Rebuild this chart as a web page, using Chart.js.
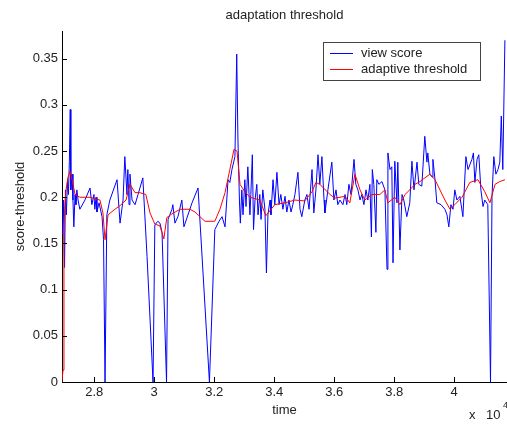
<!DOCTYPE html>
<html>
<head>
<meta charset="utf-8">
<script src="https://cdn.jsdelivr.net/npm/chart.js@4.4.1/dist/chart.umd.min.js"></script>
<style>
    html, body { margin: 0; padding: 0; background: #fff; }
    canvas { display: block; }
</style>
</head>
<body>
<canvas id="grafico" width="507" height="426"></canvas>
<script>
// view score (blue)
const scoreTime = [
    26940, 26970, 27010, 27040, 27070, 27110, 27140, 27170, 27200, 27220,
    27260, 27290, 27320, 27360, 27390, 27420, 27460, 27520, 27690, 27860,
    27920, 27990, 28020, 28060, 28090, 28160, 28260, 28310, 28360, 28420,
    28520, 28760, 28860, 28960, 29020, 29090, 29120, 29160, 29190, 29260,
    29360, 29460, 29620, 29760, 29960, 30020, 30120, 30190, 30260, 30410,
    30460, 30520, 30590, 30620, 30690, 30790, 30920, 30990, 31260, 31460,
    31840, 32020, 32160, 32260, 32360, 32460, 32520, 32590, 32690, 32750,
    32790, 32840, 32870, 32920, 32960, 33020, 33060, 33120, 33190, 33220,
    33270, 33310, 33360, 33420, 33460, 33520, 33560, 33620, 33690, 33740,
    33790, 33860, 33890, 33960, 34020, 34090, 34160, 34220, 34290, 34360,
    34420, 34490, 34560, 34620, 34690, 34790, 34860, 34920, 35020, 35090,
    35160, 35260, 35320, 35390, 35460, 35520, 35590, 35660, 35690, 35790,
    35920, 35990, 36060, 36120, 36190, 36290, 36360, 36420, 36490, 36560,
    36660, 36720, 36790, 36860, 36920, 36990, 37060, 37120, 37190, 37240,
    37270, 37320, 37390, 37420, 37490, 37590, 37690, 37760, 37790, 37860,
    37920, 37960, 38020, 38090, 38120, 38190, 38260, 38320, 38420, 38520,
    38590, 38660, 38760, 38820, 38920, 39020, 39090, 39120, 39190, 39260,
    39290, 39360, 39420, 39560, 39690, 39760, 39820, 39890, 39960, 40020,
    40090, 40190, 40290, 40390, 40460, 40520, 40590, 40640, 40690, 40760,
    40820, 40890, 40960, 41020, 41120, 41210, 41260, 41320, 41390, 41460,
    41520, 41570, 41620, 41690
];
const viewScore = [
    0.160, 0.197, 0.124, 0.208, 0.181, 0.219, 0.203, 0.239, 0.295, 0.208,
    0.225, 0.197, 0.168, 0.203, 0.192, 0.208, 0.197, 0.187, 0.197, 0.210,
    0.192, 0.203, 0.187, 0.200, 0.184, 0.194, 0.179, 0.154, 0, 0.181,
    0.197, 0.219, 0.172, 0.197, 0.244, 0.203, 0.230, 0.192, 0.225, 0.197,
    0.192, 0.203, 0.221, 0.136, 0, 0.170, 0.174, 0.172, 0.162, 0,
    0.176, 0.181, 0.187, 0.192, 0.172, 0.179, 0.197, 0.168, 0.194, 0.210,
    0, 0.165, 0.174, 0.179, 0.168, 0.219, 0.216, 0.230, 0.244, 0.355,
    0.263, 0.197, 0.172, 0.208, 0.181, 0.219, 0.190, 0.233, 0.181, 0.203,
    0.246, 0.165, 0.197, 0.214, 0.181, 0.203, 0.176, 0.208, 0.187, 0.118,
    0.181, 0.197, 0.181, 0.219, 0.192, 0.227, 0.192, 0.203, 0.187, 0.201,
    0.184, 0.197, 0.184, 0.192, 0.203, 0.227, 0.187, 0.179, 0.197, 0.203,
    0.187, 0.230, 0.183, 0.208, 0.246, 0.214, 0.244, 0.197, 0.183, 0.208,
    0.238, 0.197, 0.208, 0.192, 0.197, 0.192, 0.203, 0.192, 0.214, 0.203,
    0.241, 0.214, 0.208, 0.197, 0.203, 0.192, 0.208, 0.197, 0.214, 0.157,
    0.230, 0.214, 0.162, 0.219, 0.214, 0.217, 0.208, 0.122, 0.248, 0.230,
    0.233, 0.129, 0.239, 0.194, 0.238, 0.143, 0.203, 0.197, 0.179, 0.194,
    0.239, 0.208, 0.238, 0.214, 0.212, 0.266, 0.238, 0.248, 0.225, 0.222,
    0.241, 0.219, 0.194, 0.192, 0.187, 0.181, 0.168, 0.192, 0.187, 0.208,
    0.197, 0.201, 0.179, 0.244, 0.230, 0.235, 0.241, 0.248, 0.216, 0.241,
    0.246, 0.208, 0.190, 0.197, 0.192, 0, 0.201, 0.244, 0.225, 0.230,
    0.238, 0.288, 0.230, 0.370
];

// adaptive threshold (red)
const thresholdTime = [
    26920, 26960, 26990, 27020, 27060, 27120, 27190, 27260, 27360, 27520,
    27860, 28190, 28290, 28360, 28460, 28690, 28860, 29060, 29190, 29360,
    29520, 29720, 29860, 30020, 30190, 30320, 30420, 30590, 30860, 31190,
    31360, 31690, 32020, 32190, 32360, 32520, 32660, 32760, 32860, 33020,
    33190, 33520, 33720, 34020, 34360, 34690, 35020, 35260, 35390, 35520,
    35860, 36020, 36360, 36520, 36690, 36860, 37020, 37260, 37520, 37690,
    37790, 38020, 38190, 38360, 38520, 38690, 38860, 39020, 39190, 39360,
    39690, 39860, 40020, 40260, 40520, 40790, 41020, 41190, 41360, 41520,
    41690
];
const threshold = [
    0, 0.013, 0.165, 0.192, 0.208, 0.221, 0.228, 0.219, 0.203, 0.200,
    0.200, 0.197, 0.183, 0.154, 0.181, 0.187, 0.191, 0.197, 0.214, 0.205,
    0.205, 0.203, 0.183, 0.171, 0.169, 0.155, 0.178, 0.182, 0.187, 0.187,
    0.184, 0.174, 0.174, 0.187, 0.205, 0.230, 0.252, 0.250, 0.214, 0.206,
    0.200, 0.197, 0.180, 0.192, 0.194, 0.197, 0.196, 0.206, 0.216, 0.214,
    0.203, 0.199, 0.201, 0.194, 0.225, 0.208, 0.197, 0.203, 0.203, 0.208,
    0.194, 0.200, 0.192, 0.203, 0.208, 0.214, 0.217, 0.221, 0.225, 0.219,
    0.197, 0.187, 0.192, 0.200, 0.216, 0.219, 0.206, 0.194, 0.214, 0.217,
    0.219
];

const xTicks = [28000, 30000, 32000, 34000, 36000, 38000, 40000];
const yTicks = [0, 0.05, 0.1, 0.15, 0.2, 0.25, 0.3, 0.35];

const fonte = '"Liberation Sans", Arial, sans-serif';
const corTexto = '#222';

function pares(xs, ys) {
    return xs.map((x, i) => ({ x: x, y: ys[i] }));
}

// inward ticks, legend box and the "x 10^4" multiplier
const extras = {
    id: 'extras',
    afterDraw(chart) {
        const ctx = chart.ctx;
        const area = chart.chartArea;
        const sx = chart.scales.x;
        const sy = chart.scales.y;

        ctx.save();
        ctx.strokeStyle = '#000';
        ctx.lineWidth = 1;
        ctx.beginPath();
        sx.ticks.forEach(t => {
            const px = Math.round(sx.getPixelForValue(t.value)) + 0.5;
            ctx.moveTo(px, area.bottom);
            ctx.lineTo(px, area.bottom - 5);
        });
        sy.ticks.forEach(t => {
            const py = Math.round(sy.getPixelForValue(t.value)) + 0.5;
            ctx.moveTo(area.left, py);
            ctx.lineTo(area.left + 5, py);
        });
        ctx.stroke();

        // legend
        ctx.fillStyle = '#fff';
        ctx.fillRect(323.5, 42.5, 157, 38);
        ctx.strokeStyle = '#444';
        ctx.strokeRect(323.5, 42.5, 157, 38);
        ctx.font = '13px ' + fonte;
        ctx.textBaseline = 'middle';
        chart.data.datasets.forEach((ds, i) => {
            const yy = 53.5 + i * 16;
            ctx.strokeStyle = ds.borderColor;
            ctx.beginPath();
            ctx.moveTo(330, yy);
            ctx.lineTo(353, yy);
            ctx.stroke();
            ctx.fillStyle = corTexto;
            ctx.fillText(ds.label, 361, yy);
        });

        // x 10^4
        ctx.textBaseline = 'alphabetic';
        ctx.fillText('x', 469, 419);
        ctx.fillText('10', 486, 419);
        ctx.font = '9px ' + fonte;
        ctx.fillText('4', 503, 408);
        ctx.restore();
    }
};

new Chart(document.getElementById('grafico'), {
    type: 'line',
    data: {
        datasets: [
            {
                label: 'view score',
                data: pares(scoreTime, viewScore),
                borderColor: '#0000ff',
                borderWidth: 1,
                pointRadius: 0,
                tension: 0,
                order: 1
            },
            {
                label: 'adaptive threshold',
                data: pares(thresholdTime, threshold),
                borderColor: '#ff0000',
                borderWidth: 1,
                pointRadius: 0,
                tension: 0,
                order: 0
            }
        ]
    },
    options: {
        responsive: false,
        animation: false,
        devicePixelRatio: 1,
        layout: { padding: 0 },
        plugins: {
            legend: { display: false },
            tooltip: { enabled: false },
            title: {
                display: true,
                text: 'adaptation threshold',
                fullSize: false,
                color: corTexto,
                font: { family: fonte, size: 13, weight: 'normal', lineHeight: 1.2 },
                padding: { top: 8, bottom: 7.4 }
            }
        },
        scales: {
            x: {
                type: 'linear',
                min: 26925,
                max: 41760,
                afterFit(scale) { scale.height = 44; },
                afterBuildTicks(scale) { scale.ticks = xTicks.map(v => ({ value: v })); },
                grid: { display: false, drawTicks: false },
                border: { display: true, color: '#000', width: 1 },
                ticks: {
                    padding: 3,
                    color: corTexto,
                    font: { family: fonte, size: 13 },
                    maxRotation: 0,
                    callback: v => String(+(v / 10000).toFixed(1))
                },
                title: {
                    display: true,
                    text: 'time',
                    color: corTexto,
                    font: { family: fonte, size: 13 },
                    padding: { top: 0, bottom: 8 }
                }
            },
            y: {
                min: 0,
                max: 0.38,
                afterFit(scale) { scale.width = 62; },
                afterBuildTicks(scale) { scale.ticks = yTicks.map(v => ({ value: v })); },
                grid: { display: false, drawTicks: false },
                border: { display: true, color: '#000', width: 1 },
                ticks: {
                    padding: 4,
                    color: corTexto,
                    font: { family: fonte, size: 13 },
                    callback: v => String(+v.toFixed(2))
                },
                title: {
                    display: true,
                    text: 'score-threshold',
                    color: corTexto,
                    font: { family: fonte, size: 13 },
                    padding: { top: 13, bottom: 0 }
                }
            }
        }
    },
    plugins: [extras]
});
</script>
</body>
</html>
